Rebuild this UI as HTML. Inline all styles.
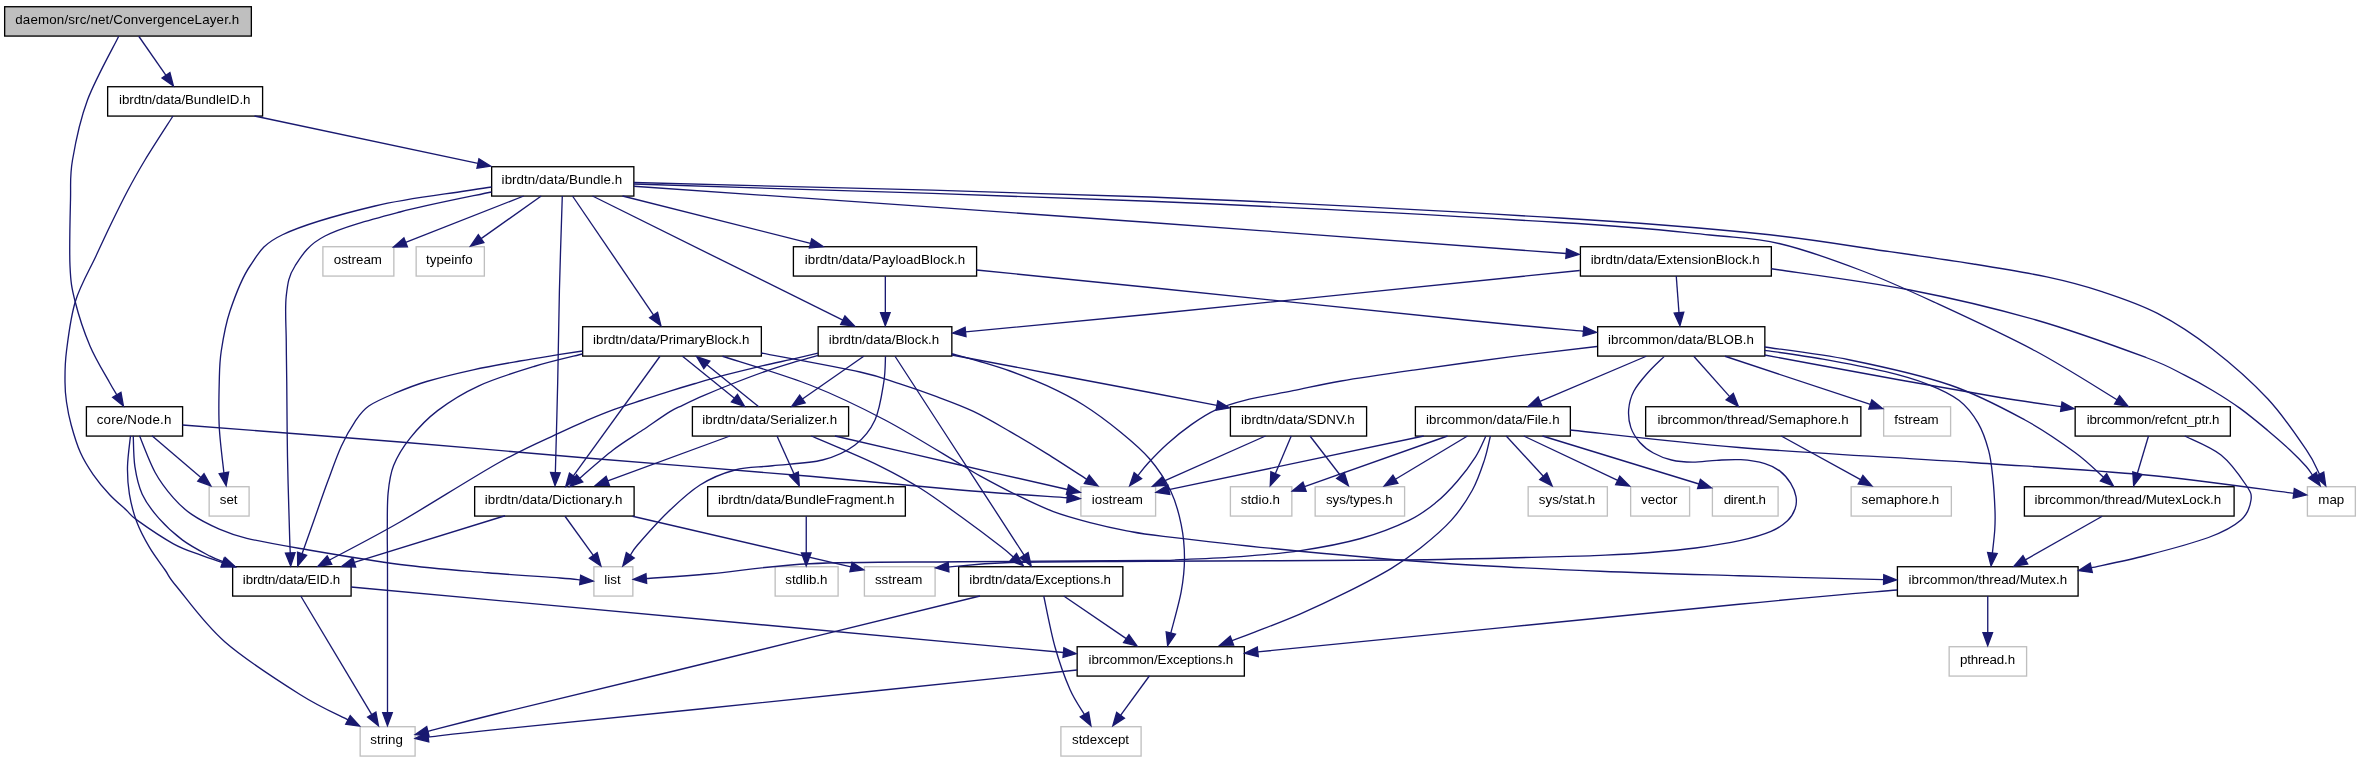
<!DOCTYPE html><html><head><meta charset="utf-8"><title>graph</title><style>html,body{margin:0;padding:0;background:#fff}svg{display:block;will-change:transform}text{font-family:"Liberation Sans",sans-serif;font-size:13.33px;fill:#000;text-anchor:middle}.e{fill:none;stroke:#191970;stroke-width:1.33}.a{fill:#191970;stroke:#191970;stroke-width:1.33}.b{fill:#fff;stroke:#000;stroke-width:1.33}.g{fill:#fff;stroke:#bfbfbf;stroke-width:1.33}.r{fill:#bfbfbf;stroke:#000;stroke-width:1.33}</style></head><body>
<svg width="2361" height="763" viewBox="0 0 2361 763">
<rect x="0" y="0" width="2361" height="763" fill="#fff"/>
<rect class="r" x="4.65" y="6.73" width="246.70" height="29.34"/>
<text x="127.25" y="23.80" textLength="224.08" lengthAdjust="spacing">daemon/src/net/ConvergenceLayer.h</text>
<rect class="b" x="107.65" y="86.73" width="154.95" height="29.34"/>
<text x="184.75" y="103.80" textLength="131.39" lengthAdjust="spacing">ibrdtn/data/BundleID.h</text>
<rect class="b" x="491.65" y="166.73" width="142.20" height="29.34"/>
<text x="561.88" y="183.80" textLength="120.56" lengthAdjust="spacing">ibrdtn/data/Bundle.h</text>
<rect class="g" x="322.90" y="246.73" width="70.95" height="29.34"/>
<text x="357.88" y="263.80">ostream</text>
<rect class="g" x="416.15" y="246.73" width="68.20" height="29.34"/>
<text x="449.38" y="263.80">typeinfo</text>
<rect class="b" x="793.40" y="246.73" width="183.20" height="29.34"/>
<text x="885.00" y="263.80" textLength="160.56" lengthAdjust="spacing">ibrdtn/data/PayloadBlock.h</text>
<rect class="b" x="1580.40" y="246.73" width="190.95" height="29.34"/>
<text x="1675.13" y="263.80">ibrdtn/data/ExtensionBlock.h</text>
<rect class="b" x="582.65" y="326.73" width="178.70" height="29.34"/>
<text x="671.25" y="343.80">ibrdtn/data/PrimaryBlock.h</text>
<rect class="b" x="818.15" y="326.73" width="133.70" height="29.34"/>
<text x="884.00" y="343.80">ibrdtn/data/Block.h</text>
<rect class="b" x="1597.65" y="326.73" width="167.20" height="29.34"/>
<text x="1681.00" y="343.80">ibrcommon/data/BLOB.h</text>
<rect class="b" x="86.40" y="406.73" width="96.20" height="29.34"/>
<text x="134.00" y="423.80" textLength="74.61" lengthAdjust="spacing">core/Node.h</text>
<rect class="b" x="692.40" y="406.73" width="156.20" height="29.34"/>
<text x="769.62" y="423.80" textLength="134.88" lengthAdjust="spacing">ibrdtn/data/Serializer.h</text>
<rect class="b" x="1230.40" y="406.73" width="136.20" height="29.34"/>
<text x="1297.88" y="423.80">ibrdtn/data/SDNV.h</text>
<rect class="b" x="1415.40" y="406.73" width="154.95" height="29.34"/>
<text x="1492.76" y="423.80" textLength="133.61" lengthAdjust="spacing">ibrcommon/data/File.h</text>
<rect class="b" x="1645.65" y="406.73" width="215.20" height="29.34"/>
<text x="1753.00" y="423.80">ibrcommon/thread/Semaphore.h</text>
<rect class="g" x="1883.65" y="406.73" width="66.95" height="29.34"/>
<text x="1916.49" y="423.80">fstream</text>
<rect class="b" x="2075.15" y="406.73" width="155.20" height="29.34"/>
<text x="2153.12" y="423.80" textLength="132.56" lengthAdjust="spacing">ibrcommon/refcnt_ptr.h</text>
<rect class="g" x="209.15" y="486.73" width="39.95" height="29.34"/>
<text x="228.62" y="503.80">set</text>
<rect class="b" x="474.65" y="486.73" width="159.45" height="29.34"/>
<text x="553.63" y="503.80" textLength="137.58" lengthAdjust="spacing">ibrdtn/data/Dictionary.h</text>
<rect class="b" x="707.65" y="486.73" width="197.70" height="29.34"/>
<text x="806.25" y="503.80">ibrdtn/data/BundleFragment.h</text>
<rect class="g" x="1080.90" y="486.73" width="74.70" height="29.34"/>
<text x="1117.38" y="503.80">iostream</text>
<rect class="g" x="1230.40" y="486.73" width="61.45" height="29.34"/>
<text x="1260.37" y="503.80">stdio.h</text>
<rect class="g" x="1315.15" y="486.73" width="89.45" height="29.34"/>
<text x="1359.26" y="503.80">sys/types.h</text>
<rect class="g" x="1528.15" y="486.73" width="79.20" height="29.34"/>
<text x="1567.00" y="503.80">sys/stat.h</text>
<rect class="g" x="1630.65" y="486.73" width="58.95" height="29.34"/>
<text x="1659.24" y="503.80">vector</text>
<rect class="g" x="1712.40" y="486.73" width="65.70" height="29.34"/>
<text x="1744.88" y="503.80" textLength="42.22" lengthAdjust="spacing">dirent.h</text>
<rect class="g" x="1851.15" y="486.73" width="100.20" height="29.34"/>
<text x="1900.38" y="503.80">semaphore.h</text>
<rect class="b" x="2024.40" y="486.73" width="209.70" height="29.34"/>
<text x="2127.88" y="503.80">ibrcommon/thread/MutexLock.h</text>
<rect class="g" x="2307.40" y="486.73" width="47.95" height="29.34"/>
<text x="2331.26" y="503.80">map</text>
<rect class="b" x="232.65" y="566.73" width="118.45" height="29.34"/>
<text x="291.50" y="583.80" textLength="97.28" lengthAdjust="spacing">ibrdtn/data/EID.h</text>
<rect class="g" x="593.90" y="566.73" width="38.95" height="29.34"/>
<text x="612.50" y="583.80">list</text>
<rect class="g" x="775.15" y="566.73" width="62.95" height="29.34"/>
<text x="806.37" y="583.80">stdlib.h</text>
<rect class="g" x="864.40" y="566.73" width="70.70" height="29.34"/>
<text x="898.62" y="583.80">sstream</text>
<rect class="b" x="958.65" y="566.73" width="164.20" height="29.34"/>
<text x="1040.12" y="583.80" textLength="141.75" lengthAdjust="spacing">ibrdtn/data/Exceptions.h</text>
<rect class="b" x="1897.40" y="566.73" width="180.70" height="29.34"/>
<text x="1987.88" y="583.80">ibrcommon/thread/Mutex.h</text>
<rect class="b" x="1077.15" y="646.73" width="167.20" height="29.34"/>
<text x="1160.88" y="663.80" textLength="144.69" lengthAdjust="spacing">ibrcommon/Exceptions.h</text>
<rect class="g" x="1949.15" y="646.73" width="77.45" height="29.34"/>
<text x="1987.51" y="663.80" textLength="55.08" lengthAdjust="spacing">pthread.h</text>
<rect class="g" x="360.15" y="726.73" width="54.95" height="29.34"/>
<text x="386.62" y="743.80">string</text>
<rect class="g" x="1060.90" y="726.73" width="80.20" height="29.34"/>
<text x="1100.50" y="743.80">stdexcept</text>
<path class="e" d="M118.75,36.25 C113.54,46.88 95.21,79.38 87.50,100.00 C79.79,120.62 75.33,143.33 72.50,160.00 C69.67,176.67 70.92,182.33 70.50,200.00 C70.08,217.67 69.25,249.17 70.00,266.00 C70.75,282.83 71.67,287.67 75.00,301.00 C78.33,314.33 84.29,332.50 90.00,346.00 C95.71,359.50 104.78,373.87 109.25,382.00 C113.72,390.13 115.56,392.66 116.82,394.80"/>
<polygon class="a" points="123.44,405.98 112.69,397.24 120.95,392.35"/>
<path class="e" d="M138.75,36.25 L165.98,75.34"/>
<polygon class="a" points="173.41,86.01 162.04,78.08 169.92,72.60"/>
<path class="e" d="M173.00,116.00 C168.33,123.33 152.58,147.50 145.00,160.00 C137.42,172.50 133.17,180.33 127.50,191.00 C121.83,201.67 116.25,213.17 111.00,224.00 C105.75,234.83 101.92,243.17 96.00,256.00 C90.08,268.83 80.42,285.17 75.50,301.00 C70.58,316.83 68.25,337.50 66.50,351.00 C64.75,364.50 65.00,373.50 65.00,382.00 C65.00,390.50 65.47,394.83 66.50,402.00 C67.53,409.17 68.88,416.57 71.20,425.00 C73.52,433.43 76.73,444.33 80.40,452.60 C84.07,460.87 88.32,467.57 93.20,474.60 C98.08,481.63 104.20,488.90 109.70,494.80 C115.20,500.70 121.70,505.82 126.20,510.00 C130.70,514.18 128.83,514.27 136.70,519.90 C144.57,525.53 162.70,537.92 173.40,543.80 C184.10,549.68 192.70,552.06 200.90,555.20 C209.10,558.34 219.01,561.38 222.63,562.61"/>
<polygon class="a" points="234.93,566.81 221.08,567.15 224.18,558.07"/>
<path class="e" d="M254.50,116.00 L477.95,163.43"/>
<polygon class="a" points="490.66,166.13 476.95,168.12 478.94,158.73"/>
<path class="e" d="M491.50,187.00 C487.08,187.67 484.42,187.83 465.00,191.00 C445.58,194.17 405.42,198.71 375.00,206.00 C344.58,213.29 303.33,224.75 282.50,234.75 C261.67,244.75 258.75,253.29 250.00,266.00 C241.25,278.71 234.79,296.83 230.00,311.00 C225.21,325.17 223.04,339.17 221.25,351.00 C219.46,362.83 219.58,369.33 219.25,382.00 C218.92,394.67 218.48,411.86 219.25,427.00 C220.02,442.14 223.12,465.21 223.90,472.85"/>
<polygon class="a" points="226.15,485.66 219.17,473.68 228.63,472.03"/>
<path class="e" d="M491.50,192.00 C476.25,195.33 427.75,204.67 400.00,212.00 C372.25,219.33 342.50,227.00 325.00,236.00 C307.50,245.00 301.46,256.00 295.00,266.00 C288.54,276.00 287.71,283.50 286.25,296.00 C284.79,308.50 286.17,326.67 286.25,341.00 C286.33,355.33 286.54,362.67 286.75,382.00 C286.96,401.33 287.04,432.00 287.50,457.00 C287.96,482.00 289.04,516.02 289.50,532.00 C289.96,547.98 290.13,549.42 290.26,552.91"/>
<polygon class="a" points="290.73,565.90 285.46,553.08 295.05,552.74"/>
<path class="e" d="M523.75,196.00 L405.66,242.29"/>
<polygon class="a" points="393.56,247.03 403.91,237.82 407.41,246.76"/>
<path class="e" d="M541.25,196.00 L481.10,238.64"/>
<polygon class="a" points="470.49,246.15 478.32,234.72 483.87,242.55"/>
<path class="e" d="M562.30,196.00 C561.82,211.83 560.17,260.00 559.40,291.00 C558.63,322.00 558.37,351.72 557.70,382.00 C557.03,412.28 555.74,457.55 555.35,472.65"/>
<polygon class="a" points="555.02,485.65 550.55,472.53 560.15,472.78"/>
<path class="e" d="M572.50,196.00 L653.59,315.01"/>
<polygon class="a" points="660.91,325.75 649.63,317.71 657.56,312.31"/>
<path class="e" d="M592.50,196.00 L842.82,320.21"/>
<polygon class="a" points="854.46,325.98 840.68,324.50 844.95,315.91"/>
<path class="e" d="M622.50,196.00 L810.56,243.42"/>
<polygon class="a" points="823.17,246.60 809.39,248.08 811.74,238.77"/>
<path class="e" d="M633.75,186.25 C719.79,192.29 994.59,211.29 1150.00,222.50 C1305.41,233.71 1496.82,248.33 1566.19,253.49"/>
<polygon class="a" points="1579.15,254.46 1565.83,258.28 1566.54,248.70"/>
<path class="e" d="M633.75,182.50 C719.79,184.92 995.62,191.08 1150.00,197.00 C1304.38,202.92 1458.33,211.88 1560.00,218.00 C1661.67,224.12 1705.83,228.25 1760.00,233.75 C1814.17,239.25 1849.43,245.96 1885.00,251.00 C1920.57,256.04 1946.43,259.68 1973.40,264.00 C2000.37,268.32 2025.38,272.30 2046.80,276.90 C2068.22,281.50 2083.45,285.52 2101.90,291.60 C2120.35,297.68 2139.05,303.80 2157.50,313.40 C2175.95,323.00 2194.23,334.97 2212.60,349.20 C2230.97,363.43 2252.10,382.05 2267.70,398.80 C2283.30,415.55 2297.56,437.12 2306.20,449.70 C2314.84,462.28 2317.30,470.19 2319.52,474.29"/>
<polygon class="a" points="2325.71,485.72 2315.30,476.58 2323.74,472.01"/>
<path class="e" d="M633.75,184.00 C719.79,186.88 995.62,194.83 1150.00,201.25 C1304.38,207.67 1466.67,216.88 1560.00,222.50 C1653.33,228.12 1673.33,231.46 1710.00,235.00 C1746.67,238.54 1755.00,237.92 1780.00,243.75 C1805.00,249.58 1834.17,260.21 1860.00,270.00 C1885.83,279.79 1905.83,289.04 1935.00,302.50 C1964.17,315.96 2004.65,334.54 2035.00,350.75 C2065.35,366.96 2103.40,391.60 2117.07,399.78"/>
<polygon class="a" points="2128.23,406.44 2114.61,403.90 2119.54,395.65"/>
<path class="e" d="M885.33,276.00 L885.33,312.65"/>
<polygon class="a" points="885.33,325.65 880.53,312.65 890.13,312.65"/>
<path class="e" d="M976.50,270.00 C1005.42,272.92 1068.58,279.17 1150.00,287.50 C1231.42,295.83 1392.76,312.71 1465.00,320.00 C1537.24,327.29 1563.72,329.35 1583.46,331.22"/>
<polygon class="a" points="1596.40,332.44 1583.01,336.00 1583.91,326.44"/>
<path class="e" d="M1579.75,270.50 C1508.12,277.79 1252.37,304.01 1150.00,314.25 C1047.63,324.49 996.28,329.00 965.54,331.95"/>
<polygon class="a" points="952.60,333.19 965.08,327.17 966.00,336.73"/>
<path class="e" d="M1676.25,276.00 L1678.99,312.69"/>
<polygon class="a" points="1679.96,325.65 1674.20,313.04 1683.77,312.33"/>
<path class="e" d="M1771.25,268.75 C1794.38,272.29 1865.88,281.46 1910.00,290.00 C1954.12,298.54 1996.67,308.75 2036.00,320.00 C2075.33,331.25 2121.15,348.27 2146.00,357.50 C2170.85,366.73 2174.00,369.90 2185.10,375.40 C2196.20,380.90 2203.43,385.00 2212.60,390.50 C2221.77,396.00 2230.92,401.75 2240.10,408.40 C2249.28,415.05 2259.43,423.52 2267.70,430.40 C2275.97,437.28 2283.28,443.68 2289.70,449.70 C2296.12,455.72 2302.40,462.24 2306.20,466.50 C2310.00,470.76 2311.47,473.78 2312.52,475.23"/>
<polygon class="a" points="2320.15,485.76 2308.64,478.05 2316.41,472.42"/>
<path class="e" d="M582.50,351.00 C578.27,351.65 567.55,353.23 557.10,354.90 C546.65,356.57 533.78,358.52 519.80,361.00 C505.82,363.48 488.73,366.38 473.20,369.80 C457.67,373.22 439.42,377.68 426.60,381.50 C413.78,385.32 405.93,388.62 396.30,392.70 C386.67,396.78 375.68,401.18 368.80,406.00 C361.92,410.82 359.58,414.88 355.00,421.60 C350.42,428.32 345.88,436.22 341.30,446.30 C336.72,456.38 332.08,469.70 327.50,482.10 C322.92,494.50 318.04,508.77 313.80,520.70 C309.56,532.63 304.02,548.19 302.06,553.69"/>
<polygon class="a" points="297.70,565.93 297.54,552.08 306.58,555.30"/>
<path class="e" d="M582.50,354.00 C574.42,356.08 551.27,361.20 534.00,366.50 C516.73,371.80 494.97,378.45 478.90,385.80 C462.83,393.15 449.07,401.88 437.60,410.60 C426.13,419.32 417.43,428.93 410.10,438.10 C402.77,447.27 397.27,456.43 393.60,465.60 C389.93,474.77 389.15,482.37 388.10,493.10 C387.05,503.83 387.40,516.73 387.30,530.00 C387.20,543.27 387.47,542.31 387.50,572.75 C387.53,603.19 387.50,689.33 387.50,712.65"/>
<polygon class="a" points="387.50,725.65 382.70,712.65 392.30,712.65"/>
<path class="e" d="M660.00,356.25 L573.37,475.98"/>
<polygon class="a" points="565.75,486.51 569.48,473.17 577.26,478.80"/>
<path class="e" d="M682.50,356.25 L734.42,398.20"/>
<polygon class="a" points="744.53,406.37 731.40,401.94 737.44,394.47"/>
<path class="e" d="M758.75,406.75 L706.83,364.80"/>
<polygon class="a" points="696.72,356.63 709.85,361.06 703.81,368.53"/>
<path class="e" d="M761.25,353.00 C777.71,356.17 836.88,366.85 860.00,372.00 C883.12,377.15 887.22,379.78 900.00,383.90 C912.78,388.02 924.47,392.12 936.70,396.70 C948.93,401.28 961.17,405.58 973.40,411.40 C985.63,417.22 997.87,424.57 1010.10,431.60 C1022.33,438.63 1034.02,445.64 1046.80,453.60 C1059.58,461.56 1080.12,475.05 1086.79,479.34"/>
<polygon class="a" points="1097.98,485.95 1084.35,483.47 1089.23,475.21"/>
<path class="e" d="M722.50,356.25 C737.08,361.04 782.92,374.38 810.00,385.00 C837.08,395.62 860.00,406.83 885.00,420.00 C910.00,433.17 944.17,454.70 960.00,464.00 C975.83,473.30 970.55,470.63 980.00,475.80 C989.45,480.97 1004.47,489.03 1016.70,495.00 C1028.93,500.97 1041.17,507.00 1053.40,511.60 C1065.63,516.20 1077.87,519.40 1090.10,522.60 C1102.33,525.80 1114.57,528.52 1126.80,530.80 C1139.03,533.08 1134.63,532.89 1163.50,536.30 C1192.37,539.71 1252.25,546.67 1300.00,551.25 C1347.75,555.83 1400.00,560.42 1450.00,563.75 C1500.00,567.08 1551.83,569.25 1600.00,571.25 C1648.17,573.25 1691.72,574.35 1739.00,575.75 C1786.28,577.15 1859.55,578.99 1883.65,579.63"/>
<polygon class="a" points="1896.65,579.98 1883.53,584.43 1883.78,574.84"/>
<path class="e" d="M818.00,353.20 C814.30,354.07 805.78,356.13 795.80,358.40 C785.82,360.67 769.98,364.00 758.10,366.80 C746.22,369.60 734.98,372.42 724.50,375.20 C714.02,377.98 704.28,380.85 695.20,383.50 C686.12,386.15 678.77,388.35 670.00,391.10 C661.23,393.85 651.77,396.98 642.60,400.00 C633.43,403.02 624.18,405.83 615.00,409.20 C605.82,412.57 596.67,416.30 587.50,420.20 C578.33,424.10 574.58,425.63 560.00,432.60 C545.42,439.57 526.67,447.10 500.00,462.00 C473.33,476.90 428.42,505.66 400.00,522.00 C371.58,538.34 341.22,553.70 329.47,560.04"/>
<polygon class="a" points="318.03,566.22 327.19,555.82 331.75,564.27"/>
<path class="e" d="M818.00,355.40 C814.30,356.45 804.40,359.10 795.80,361.70 C787.20,364.30 776.88,367.37 766.40,371.00 C755.92,374.63 743.38,379.38 732.90,383.50 C722.42,387.62 711.88,392.07 703.50,395.70 C695.12,399.33 688.18,402.65 682.60,405.30 C677.02,407.95 676.65,407.48 670.00,411.60 C663.35,415.72 652.18,423.60 642.70,430.00 C633.22,436.40 623.60,441.96 613.10,450.00 C602.60,458.04 585.26,473.52 579.69,478.22"/>
<polygon class="a" points="569.76,486.61 576.59,474.56 582.79,481.89"/>
<path class="e" d="M863.75,356.25 L802.41,398.98"/>
<polygon class="a" points="791.74,406.41 799.67,395.04 805.15,402.92"/>
<path class="e" d="M885.50,356.25 C885.21,360.62 885.50,371.88 883.75,382.50 C882.00,393.12 879.79,409.58 875.00,420.00 C870.21,430.42 863.75,438.33 855.00,445.00 C846.25,451.67 836.25,456.54 822.50,460.00 C808.75,463.46 787.08,464.08 772.50,465.75 C757.92,467.42 747.08,466.79 735.00,470.00 C722.92,473.21 711.25,477.92 700.00,485.00 C688.75,492.08 677.92,502.50 667.50,512.50 C657.08,522.50 643.70,537.86 637.50,545.00 C631.30,552.14 631.48,553.62 630.28,555.35"/>
<polygon class="a" points="622.84,566.01 626.35,552.60 634.22,558.09"/>
<path class="e" d="M895.00,356.25 C902.98,368.54 921.38,396.86 942.90,430.00 C964.42,463.14 1010.56,534.24 1024.10,555.09"/>
<polygon class="a" points="1031.17,566.00 1020.07,557.71 1028.12,552.48"/>
<path class="e" d="M951.75,353.75 C956.46,355.04 970.29,358.62 980.00,361.50 C989.71,364.38 998.87,366.97 1010.00,371.00 C1021.13,375.03 1034.55,380.03 1046.80,385.70 C1059.05,391.37 1071.23,397.28 1083.50,405.00 C1095.77,412.72 1109.37,423.00 1120.40,432.00 C1131.43,441.00 1141.32,449.17 1149.70,459.00 C1158.08,468.83 1165.45,480.07 1170.70,491.00 C1175.95,501.93 1178.90,513.42 1181.20,524.60 C1183.50,535.78 1184.50,546.92 1184.50,558.10 C1184.50,569.28 1183.48,579.21 1181.20,591.70 C1178.92,604.19 1172.54,626.17 1170.81,633.06"/>
<polygon class="a" points="1167.65,645.67 1166.16,631.89 1175.47,634.23"/>
<path class="e" d="M951.75,355.00 C984.79,361.25 1105.81,384.10 1150.00,392.50 C1194.19,400.90 1205.75,403.27 1216.90,405.42"/>
<polygon class="a" points="1229.66,407.89 1215.99,410.13 1217.81,400.71"/>
<path class="e" d="M1597.00,346.50 C1582.50,348.23 1540.57,352.97 1510.00,356.90 C1479.43,360.83 1441.73,366.08 1413.60,370.10 C1385.47,374.12 1361.30,377.57 1341.20,381.00 C1321.10,384.43 1309.08,387.48 1293.00,390.70 C1276.92,393.92 1257.57,397.10 1244.70,400.30 C1231.83,403.50 1224.63,405.88 1215.80,409.90 C1206.97,413.92 1199.75,418.77 1191.70,424.40 C1183.65,430.03 1174.75,437.27 1167.50,443.70 C1160.25,450.13 1153.14,457.67 1148.20,463.00 C1143.26,468.33 1139.60,473.58 1137.88,475.70"/>
<polygon class="a" points="1129.68,485.78 1134.15,472.67 1141.60,478.72"/>
<path class="e" d="M1646.25,356.25 L1540.02,401.43"/>
<polygon class="a" points="1528.05,406.52 1538.14,397.01 1541.89,405.84"/>
<path class="e" d="M1664.00,356.60 C1661.23,359.37 1652.43,367.43 1647.40,373.20 C1642.37,378.97 1636.92,385.18 1633.80,391.20 C1630.68,397.22 1629.20,403.27 1628.70,409.30 C1628.20,415.33 1628.93,421.87 1630.80,427.40 C1632.67,432.93 1636.13,438.23 1639.90,442.50 C1643.67,446.77 1648.13,450.08 1653.40,453.00 C1658.67,455.92 1664.97,458.48 1671.50,460.00 C1678.03,461.52 1685.07,462.05 1692.60,462.10 C1700.13,462.15 1708.67,460.70 1716.70,460.30 C1724.73,459.90 1732.77,459.15 1740.80,459.70 C1748.83,460.25 1758.37,461.70 1764.90,463.60 C1771.43,465.50 1775.72,467.83 1780.00,471.10 C1784.28,474.37 1787.93,478.93 1790.60,483.20 C1793.27,487.47 1795.25,492.43 1796.00,496.70 C1796.75,500.97 1796.52,504.78 1795.10,508.80 C1793.68,512.82 1791.52,517.03 1787.50,520.80 C1783.48,524.57 1778.78,528.13 1771.00,531.40 C1763.22,534.67 1753.37,537.63 1740.80,540.40 C1728.23,543.17 1710.67,545.98 1695.60,548.00 C1680.53,550.02 1665.47,551.30 1650.40,552.50 C1635.33,553.70 1620.27,554.52 1605.20,555.20 C1590.13,555.88 1594.20,555.80 1560.00,556.60 C1525.80,557.40 1468.33,559.23 1400.00,560.00 C1331.67,560.77 1215.00,560.83 1150.00,561.25 C1085.00,561.67 1043.57,561.54 1010.00,562.50 C976.43,563.46 958.80,566.25 948.56,567.01"/>
<polygon class="a" points="935.60,567.96 948.21,562.22 948.91,571.79"/>
<path class="e" d="M1693.75,356.25 L1729.70,396.60"/>
<polygon class="a" points="1738.35,406.30 1726.12,399.79 1733.29,393.40"/>
<path class="e" d="M1725.00,356.25 L1870.34,404.47"/>
<polygon class="a" points="1882.68,408.56 1868.83,409.02 1871.85,399.91"/>
<path class="e" d="M1764.50,355.00 C1787.08,359.17 1860.75,372.92 1900.00,380.00 C1939.25,387.08 1973.12,393.05 2000.00,397.50 C2026.88,401.95 2051.08,405.19 2061.30,406.73"/>
<polygon class="a" points="2074.16,408.66 2060.59,411.47 2062.02,401.98"/>
<path class="e" d="M1764.50,347.00 C1778.75,349.17 1819.08,353.67 1850.00,360.00 C1880.92,366.33 1920.83,375.00 1950.00,385.00 C1979.17,395.00 2004.17,408.75 2025.00,420.00 C2045.83,431.25 2061.92,442.95 2075.00,452.50 C2088.08,462.05 2098.75,473.18 2103.49,477.32"/>
<polygon class="a" points="2113.30,485.86 2100.34,480.94 2106.65,473.70"/>
<path class="e" d="M1764.50,350.30 C1774.23,351.77 1802.68,355.53 1822.90,359.10 C1843.12,362.67 1868.32,367.50 1885.80,371.70 C1903.28,375.90 1915.57,379.50 1927.80,384.30 C1940.03,389.10 1950.82,394.03 1959.20,400.50 C1967.58,406.97 1973.20,414.78 1978.10,423.10 C1983.00,431.42 1986.15,441.32 1988.60,450.40 C1991.05,459.48 1991.73,467.54 1992.80,477.60 C1993.87,487.66 1994.67,502.02 1995.00,510.75 C1995.33,519.48 1995.19,522.96 1994.75,530.00 C1994.31,537.04 1992.78,549.14 1992.39,552.97"/>
<polygon class="a" points="1991.06,565.90 1987.62,552.48 1997.16,553.46"/>
<path class="e" d="M152.00,435.75 L200.90,477.43"/>
<polygon class="a" points="210.79,485.86 197.79,481.08 204.01,473.77"/>
<path class="e" d="M182.50,425.00 C218.75,427.83 332.21,436.46 400.00,442.00 C467.79,447.54 520.92,452.54 589.25,458.25 C657.58,463.96 748.21,470.96 810.00,476.25 C871.79,481.54 917.14,486.41 960.00,490.00 C1002.86,493.59 1049.32,496.47 1067.19,497.77"/>
<polygon class="a" points="1080.15,498.71 1066.84,502.55 1067.53,492.98"/>
<path class="e" d="M130.50,435.75 C130.00,440.91 127.68,456.96 127.50,466.70 C127.32,476.44 127.87,485.03 129.40,494.20 C130.93,503.37 133.35,512.83 136.70,521.70 C140.05,530.57 144.77,539.35 149.50,547.40 C154.23,555.45 160.52,563.40 165.10,570.00 C169.68,576.60 167.02,575.00 177.00,587.00 C186.98,599.00 204.50,624.08 225.00,642.00 C245.50,659.92 279.50,681.52 300.00,694.50 C320.50,707.48 339.98,715.66 347.98,719.89"/>
<polygon class="a" points="359.47,725.97 345.73,724.13 350.22,715.65"/>
<path class="e" d="M133.25,435.75 C133.53,440.91 133.41,456.96 134.90,466.70 C136.39,476.44 138.23,485.63 142.20,494.20 C146.17,502.77 151.97,510.45 158.70,518.10 C165.43,525.75 174.03,533.75 182.60,540.10 C191.17,546.45 203.32,552.59 210.10,556.20 C216.88,559.81 221.07,560.81 223.26,561.73"/>
<polygon class="a" points="235.25,566.77 221.40,566.16 225.12,557.31"/>
<path class="e" d="M139.50,435.75 C142.08,441.82 149.35,461.84 155.00,472.20 C160.65,482.56 167.28,490.87 173.40,497.90 C179.52,504.93 184.05,509.20 191.70,514.40 C199.35,519.60 210.12,525.12 219.30,529.10 C228.48,533.08 233.35,535.07 246.80,538.30 C260.25,541.53 274.47,544.13 300.00,548.50 C325.53,552.87 368.75,560.46 400.00,564.50 C431.25,568.54 460.83,570.50 487.50,572.75 C514.17,575.00 544.55,576.80 560.00,578.00 C575.45,579.20 576.84,579.62 580.21,579.95"/>
<polygon class="a" points="593.15,581.19 579.75,584.72 580.67,575.17"/>
<path class="e" d="M730.00,436.00 L607.77,480.82"/>
<polygon class="a" points="595.56,485.29 606.12,476.31 609.42,485.32"/>
<path class="e" d="M777.00,436.00 L793.94,473.84"/>
<polygon class="a" points="799.25,485.70 789.56,475.80 798.32,471.88"/>
<path class="e" d="M811.25,436.00 C816.04,438.03 828.48,443.15 840.00,448.20 C851.52,453.25 866.95,459.58 880.40,466.30 C893.85,473.02 907.25,480.08 920.70,488.50 C934.15,496.92 947.63,507.05 961.10,516.80 C974.57,526.55 992.79,540.27 1001.50,547.00 C1010.21,553.73 1011.39,555.46 1013.37,557.16"/>
<polygon class="a" points="1023.24,565.61 1010.25,560.80 1016.49,553.51"/>
<path class="e" d="M835.00,436.00 C855.83,440.83 921.25,456.09 960.00,465.00 C998.75,473.91 1049.57,485.40 1067.49,489.48"/>
<polygon class="a" points="1080.16,492.37 1066.42,494.16 1068.56,484.80"/>
<path class="e" d="M1265.50,436.00 L1164.43,480.97"/>
<polygon class="a" points="1152.55,486.26 1162.47,476.59 1166.38,485.36"/>
<path class="e" d="M1291.25,436.00 L1275.30,473.72"/>
<polygon class="a" points="1270.23,485.70 1270.88,471.85 1279.72,475.59"/>
<path class="e" d="M1310.00,436.00 L1340.44,475.48"/>
<polygon class="a" points="1348.38,485.77 1336.64,478.41 1344.25,472.55"/>
<path class="e" d="M1423.75,436.00 L1168.81,489.70"/>
<polygon class="a" points="1156.09,492.38 1167.82,485.00 1169.80,494.39"/>
<path class="e" d="M1447.50,436.00 L1304.57,486.70"/>
<polygon class="a" points="1292.32,491.05 1302.96,482.18 1306.17,491.23"/>
<path class="e" d="M1467.50,436.00 L1395.41,479.25"/>
<polygon class="a" points="1384.26,485.94 1392.94,475.14 1397.88,483.37"/>
<path class="e" d="M1485.90,436.00 C1484.15,439.52 1480.17,449.57 1475.40,457.10 C1470.63,464.63 1463.83,473.67 1457.30,481.20 C1450.77,488.73 1444.25,495.77 1436.20,502.30 C1428.15,508.83 1421.57,514.37 1409.00,520.40 C1396.43,526.43 1378.88,533.47 1360.80,538.50 C1342.72,543.53 1320.58,547.58 1300.50,550.60 C1280.42,553.62 1260.38,555.10 1240.30,556.60 C1220.22,558.10 1195.05,558.95 1180.00,559.60 C1164.95,560.25 1186.67,560.14 1150.00,560.50 C1113.33,560.86 1016.67,561.21 960.00,561.75 C903.33,562.29 851.67,561.75 810.00,563.75 C768.33,565.75 737.28,571.29 710.00,573.75 C682.72,576.21 656.93,577.70 646.31,578.49"/>
<polygon class="a" points="633.35,579.46 645.96,573.70 646.67,583.28"/>
<path class="e" d="M1490.40,436.00 C1489.40,440.02 1487.42,451.05 1484.40,460.10 C1481.38,469.15 1477.83,480.25 1472.30,490.30 C1466.77,500.35 1459.73,510.87 1451.20,520.40 C1442.67,529.93 1431.13,539.47 1421.10,547.50 C1411.07,555.53 1403.55,561.07 1391.00,568.60 C1378.45,576.13 1360.88,585.17 1345.80,592.70 C1330.72,600.23 1315.58,607.27 1300.50,613.80 C1285.42,620.33 1266.73,627.42 1255.30,631.90 C1243.87,636.38 1235.82,639.24 1231.93,640.71"/>
<polygon class="a" points="1219.76,645.29 1230.23,636.21 1233.62,645.20"/>
<path class="e" d="M1506.25,436.00 L1543.29,476.24"/>
<polygon class="a" points="1552.09,485.81 1539.76,479.49 1546.82,472.99"/>
<path class="e" d="M1523.75,436.00 L1617.71,480.44"/>
<polygon class="a" points="1629.46,485.99 1615.65,484.77 1619.76,476.10"/>
<path class="e" d="M1542.50,436.00 L1699.00,484.01"/>
<polygon class="a" points="1711.43,487.82 1697.59,488.60 1700.41,479.42"/>
<path class="e" d="M1570.25,430.00 C1598.38,432.92 1672.21,442.08 1739.00,447.50 C1805.79,452.92 1903.17,457.92 1971.00,462.50 C2038.83,467.08 2092.21,469.86 2146.00,475.00 C2199.79,480.14 2269.13,490.27 2293.75,493.33"/>
<polygon class="a" points="2306.65,494.93 2293.16,498.09 2294.34,488.56"/>
<path class="e" d="M1781.25,436.00 L1860.59,479.69"/>
<polygon class="a" points="1871.97,485.96 1858.27,483.89 1862.90,475.49"/>
<path class="e" d="M2148.50,436.00 L2137.39,473.22"/>
<polygon class="a" points="2133.67,485.68 2132.79,471.85 2141.99,474.59"/>
<path class="e" d="M2184.75,436.00 C2190.79,439.17 2210.79,446.83 2221.00,455.00 C2231.21,463.17 2241.00,477.50 2246.00,485.00 C2251.00,492.50 2251.83,494.17 2251.00,500.00 C2250.17,505.83 2248.08,513.75 2241.00,520.00 C2233.92,526.25 2224.33,531.58 2208.50,537.50 C2192.67,543.42 2165.54,550.45 2146.00,555.50 C2126.46,560.55 2100.39,565.76 2091.27,567.81"/>
<polygon class="a" points="2078.59,570.67 2090.21,563.13 2092.32,572.50"/>
<path class="e" d="M2102.25,516.25 L2025.33,559.80"/>
<polygon class="a" points="2014.02,566.20 2022.97,555.62 2027.70,563.98"/>
<path class="e" d="M505.00,515.75 L354.24,562.47"/>
<polygon class="a" points="341.82,566.32 352.82,557.89 355.66,567.06"/>
<path class="e" d="M565.00,516.25 L593.29,555.47"/>
<polygon class="a" points="600.90,566.01 589.40,558.28 597.19,552.66"/>
<path class="e" d="M632.50,516.25 L851.00,566.93"/>
<polygon class="a" points="863.67,569.86 849.92,571.60 852.09,562.25"/>
<path class="e" d="M806.25,516.25 L806.25,552.90"/>
<polygon class="a" points="806.25,565.90 801.45,552.90 811.05,552.90"/>
<path class="e" d="M300.75,596.00 L371.76,714.58"/>
<polygon class="a" points="378.44,725.74 367.64,717.05 375.88,712.12"/>
<path class="e" d="M351.00,587.00 L1063.46,652.50"/>
<polygon class="a" points="1076.40,653.70 1063.02,657.28 1063.90,647.72"/>
<path class="e" d="M980.00,596.00 C929.17,608.46 755.00,651.25 675.00,670.75 C595.00,690.25 541.19,702.90 500.00,713.00 C458.81,723.10 439.90,728.29 427.88,731.35"/>
<polygon class="a" points="415.28,734.55 426.70,726.70 429.06,736.00"/>
<path class="e" d="M1043.75,596.00 C1045.62,604.50 1050.62,631.42 1055.00,647.00 C1059.38,662.58 1065.09,678.25 1070.00,689.50 C1074.91,700.75 1082.04,710.31 1084.44,714.48"/>
<polygon class="a" points="1090.95,725.73 1080.29,716.88 1088.60,712.07"/>
<path class="e" d="M1063.75,596.00 L1126.26,638.59"/>
<polygon class="a" points="1137.00,645.91 1123.56,642.56 1128.96,634.63"/>
<path class="e" d="M1897.25,590.00 C1870.88,592.38 1845.58,593.93 1739.00,604.25 C1632.42,614.57 1337.99,643.97 1257.78,651.91"/>
<polygon class="a" points="1244.85,653.19 1257.31,647.13 1258.26,656.69"/>
<path class="e" d="M1987.75,596.00 L1987.75,632.65"/>
<polygon class="a" points="1987.75,645.65 1982.95,632.65 1992.55,632.65"/>
<path class="e" d="M1077.00,670.00 C1014.17,676.50 796.17,699.13 700.00,709.00 C603.83,718.87 545.30,724.53 500.00,729.20 C454.70,733.87 440.18,735.72 428.22,737.03"/>
<polygon class="a" points="415.30,738.43 427.70,732.25 428.74,741.80"/>
<path class="e" d="M1149.50,675.75 L1120.54,715.28"/>
<polygon class="a" points="1112.85,725.77 1116.67,712.44 1124.41,718.12"/>
</svg></body></html>
